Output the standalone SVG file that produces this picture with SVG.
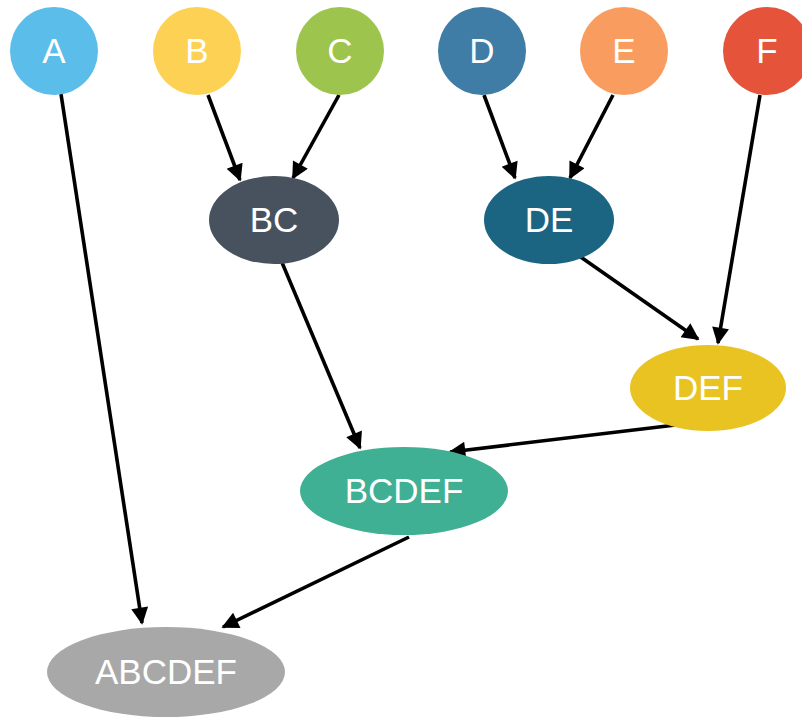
<svg xmlns="http://www.w3.org/2000/svg" width="802" height="718" viewBox="0 0 802 718">
<defs>
<style>
.lbl{font-family:"Liberation Sans",Arial,Helvetica,sans-serif;font-size:35px;fill:#ffffff;text-anchor:middle}
.edge{stroke:#000;stroke-width:3.6;fill:none;marker-end:url(#ah)}
</style>
<marker id="ah" viewBox="0 0 10 10" refX="9" refY="5" markerUnits="userSpaceOnUse" markerWidth="22" markerHeight="17" orient="auto">
<path d="M0,0 L10,5 L0,10 z" fill="#000"/>
</marker>
</defs>
<rect width="802" height="718" fill="#ffffff"/>
<g id="connectors">
<line class="edge" x1="61" y1="94" x2="142" y2="623"/>
<line class="edge" x1="208" y1="95" x2="240" y2="180"/>
<line class="edge" x1="339" y1="95" x2="293" y2="178"/>
<line class="edge" x1="484" y1="95" x2="515" y2="178"/>
<line class="edge" x1="613" y1="95" x2="570" y2="178"/>
<line class="edge" x1="760" y1="95" x2="718" y2="343"/>
<line class="edge" x1="575" y1="253" x2="698" y2="339"/>
<line class="edge" x1="278" y1="253" x2="360" y2="448"/>
<line class="edge" x1="684" y1="424" x2="450" y2="452"/>
<line class="edge" x1="409" y1="537" x2="223" y2="627"/>
</g>
<g id="A"><circle cx="54" cy="51" r="44" fill="#5BBDE9"/><text class="lbl" x="54" y="63">A</text></g>
<g id="B"><circle cx="197" cy="51" r="44" fill="#FDD153"/><text class="lbl" x="197" y="63">B</text></g>
<g id="C"><circle cx="340" cy="51" r="44" fill="#9DC44D"/><text class="lbl" x="340" y="63">C</text></g>
<g id="D"><circle cx="482" cy="51" r="44" fill="#3F7DA6"/><text class="lbl" x="482" y="63">D</text></g>
<g id="E"><circle cx="624" cy="51" r="44" fill="#F89D5F"/><text class="lbl" x="624" y="63">E</text></g>
<g id="F"><circle cx="767" cy="51" r="44" fill="#E4533A"/><text class="lbl" x="767" y="63">F</text></g>
<g id="BC"><ellipse cx="274" cy="220" rx="65" ry="44" fill="#48525E"/><text class="lbl" x="274" y="232">BC</text></g>
<g id="DE"><ellipse cx="549" cy="220" rx="65" ry="44" fill="#1B6583"/><text class="lbl" x="549" y="232">DE</text></g>
<g id="DEF"><ellipse cx="708" cy="388" rx="78" ry="43" fill="#E9C321"/><text class="lbl" x="708" y="400">DEF</text></g>
<g id="BCDEF"><ellipse cx="404" cy="491" rx="104" ry="44" fill="#40B095"/><text class="lbl" x="404" y="503">BCDEF</text></g>
<g id="ABCDEF"><ellipse cx="166" cy="672" rx="119" ry="45" fill="#A8A8A8"/><text class="lbl" x="166" y="684">ABCDEF</text></g>
</svg>
